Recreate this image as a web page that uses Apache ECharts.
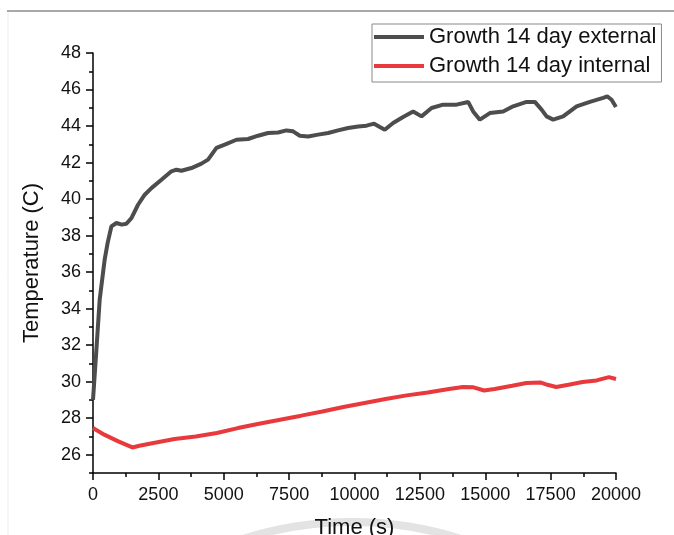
<!DOCTYPE html>
<html>
<head>
<meta charset="utf-8">
<script src="https://cdn.jsdelivr.net/npm/echarts@6/dist/echarts.min.js"></script>
<style>
  html, body { margin: 0; padding: 0; background: #fff; }
  #chart { width: 674px; height: 535px; }
</style>
</head>
<body>
<div id="chart"></div>
<script>
// ---- data ----
const extTime = [0, 130, 256, 448, 560, 703, 895, 1100, 1277, 1469, 1722, 1978, 2234, 2617, 2999, 3190, 3382, 3764, 4147, 4400, 4721, 5038, 5486, 5930, 6313, 6695, 7078, 7398, 7651, 7908, 8225, 8608, 8990, 9373, 9755, 10138, 10459, 10750, 10968, 11159, 11477, 11859, 12242, 12563, 12946, 13389, 13902, 14346, 14537, 14793, 15176, 15685, 16067, 16580, 16897, 17154, 17345, 17598, 17980, 18493, 19002, 19511, 19664, 19832, 19997];
const extTemp = [29.0, 31.75, 34.5, 36.7, 37.6, 38.5, 38.69, 38.6, 38.65, 38.96, 39.69, 40.24, 40.6, 41.06, 41.52, 41.61, 41.55, 41.7, 41.94, 42.16, 42.8, 42.98, 43.25, 43.29, 43.47, 43.62, 43.65, 43.76, 43.71, 43.47, 43.43, 43.53, 43.62, 43.76, 43.89, 43.98, 44.02, 44.13, 43.95, 43.8, 44.17, 44.5, 44.8, 44.53, 44.99, 45.17, 45.17, 45.32, 44.8, 44.35, 44.71, 44.8, 45.08, 45.32, 45.32, 44.9, 44.53, 44.35, 44.53, 45.08, 45.32, 45.54, 45.62, 45.44, 45.04];

const intTime = [0, 430, 968, 1506, 1775, 2313, 3120, 3927, 4734, 5541, 6348, 7155, 7962, 8769, 9576, 10383, 11190, 11997, 12804, 13611, 14149, 14553, 14956, 15360, 16032, 16570, 17108, 17377, 17714, 18184, 18722, 19260, 19731, 20000];
const intTemp = [27.46, 27.1, 26.73, 26.4, 26.49, 26.64, 26.86, 27.0, 27.19, 27.46, 27.7, 27.92, 28.14, 28.37, 28.61, 28.83, 29.05, 29.25, 29.41, 29.6, 29.71, 29.69, 29.52, 29.6, 29.78, 29.93, 29.96, 29.83, 29.71, 29.83, 29.98, 30.07, 30.25, 30.15];

const seriesNames = ['Growth 14 day external', 'Growth 14 day internal'];
const yMajorTicks = [26, 28, 30, 32, 34, 36, 38, 40, 42, 44, 46, 48];
const xTicks = [0, 2500, 5000, 7500, 10000, 12500, 15000, 17500, 20000];

const extData = extTime.map((t, i) => [t, extTemp[i]]);
const intData = intTime.map((t, i) => [t, intTemp[i]]);

const FONT = 'Liberation Sans, Arial, sans-serif';
const axisLineStyle = { color: '#000', width: 1.5 };

const chart = echarts.init(document.getElementById('chart'), null, { renderer: 'canvas' });
chart.setOption({
  backgroundColor: '#fff',
  animation: false,
  textStyle: { fontFamily: FONT },
  grid: { left: 93, right: 58, top: 53, bottom: 62, containLabel: false, outerBoundsMode: 'none' },
  graphic: [
    { type: 'line', z: -10, shape: { x1: 7, y1: 11, x2: 674, y2: 11 }, style: { stroke: '#a8a8a8', lineWidth: 2 } },
    { type: 'line', z: -10, shape: { x1: 8, y1: 12, x2: 8, y2: 535 }, style: { stroke: '#ececec', lineWidth: 1 } },
    { type: 'arc', z: -10, shape: { cx: 352, cy: 880, r: 358, startAngle: -1.97, endAngle: -1.17, clockwise: true }, style: { stroke: '#e3e3e3', lineWidth: 8, fill: null } }
  ],
  legend: {
    show: true,
    orient: 'vertical',
    left: 372,
    top: 24,
    data: seriesNames,
    icon: 'rect',
    itemWidth: 50,
    itemHeight: 4,
    itemGap: 7,
    itemTextGap: 6,
    itemStyle: { borderWidth: 0 },
    padding: [2, 5, 5, 2],
    borderColor: '#8a8a8a',
    borderWidth: 1,
    textStyle: { fontSize: 22, color: '#111', fontFamily: FONT }
  },
  xAxis: {
    type: 'value',
    min: 0,
    max: 20000,
    interval: 2500,
    name: 'Time (s)',
    nameLocation: 'middle',
    nameGap: 44,
    nameTextStyle: { fontSize: 22, color: '#111', fontFamily: FONT },
    axisLine: { show: true, onZero: false, lineStyle: axisLineStyle },
    axisTick: { show: true, inside: false, length: 7, lineStyle: axisLineStyle },
    minorTick: { show: true, splitNumber: 2, length: 4, lineStyle: axisLineStyle },
    axisLabel: { fontSize: 18, color: '#111', margin: 13, fontFamily: FONT, formatter: v => String(v) },
    splitLine: { show: false },
    minorSplitLine: { show: false }
  },
  yAxis: [
    {
      type: 'value',
      min: 25,
      max: 48,
      position: 'left',
      name: 'Temperature (C)',
      nameLocation: 'middle',
      nameGap: 50,
      nameTextStyle: { fontSize: 22, color: '#111', fontFamily: FONT },
      axisLine: { show: true, onZero: false, lineStyle: axisLineStyle },
      axisTick: { show: true, inside: false, length: 7, customValues: yMajorTicks, lineStyle: axisLineStyle },
      axisLabel: { fontSize: 18, color: '#111', margin: 12, customValues: yMajorTicks, fontFamily: FONT, formatter: v => String(v) },
      splitLine: { show: false }
    },
    {
      type: 'value',
      min: 25,
      max: 48,
      interval: 1,
      position: 'left',
      axisLine: { show: false, onZero: false },
      axisTick: { show: true, inside: false, length: 4, lineStyle: axisLineStyle },
      axisLabel: { show: false },
      splitLine: { show: false }
    }
  ],
  series: [
    {
      name: seriesNames[0],
      type: 'line',
      data: extData,
      yAxisIndex: 0,
      showSymbol: false,
      symbol: 'none',
      color: '#4d4d4d',
      lineStyle: { color: '#4d4d4d', width: 4 },
      z: 3
    },
    {
      name: seriesNames[1],
      type: 'line',
      data: intData,
      yAxisIndex: 0,
      showSymbol: false,
      symbol: 'none',
      color: '#e8393d',
      lineStyle: { color: '#e8393d', width: 4 },
      z: 3
    }
  ]
});
</script>
</body>
</html>
